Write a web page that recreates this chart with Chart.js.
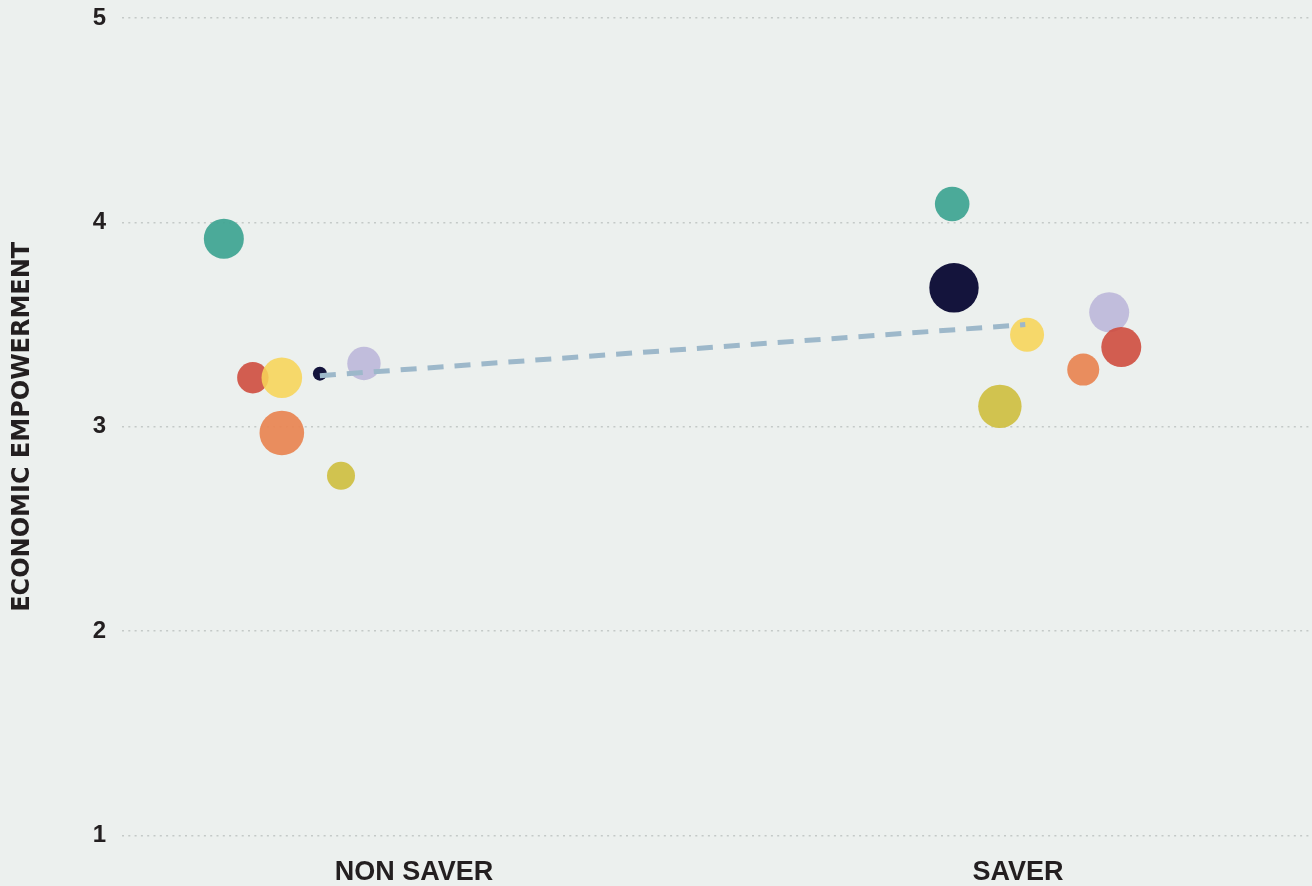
<!DOCTYPE html>
<html>
<head>
<meta charset="utf-8">
<script src="https://cdn.jsdelivr.net/npm/chart.js@4.4.1/dist/chart.umd.min.js"></script>
<style>
  html, body { margin: 0; padding: 0; background: #ecf0ee; }
  #wrap { width: 1312px; height: 886px; }
</style>
</head>
<body>
<div id="wrap"><canvas id="chart"></canvas></div>
<script>
// categories on the x axis (non saver = 0, saver = 1)
const categories = ['NON SAVER', 'SAVER'];
const yTicks = [1, 2, 3, 4, 5];

// economic empowerment score per group: [non saver, saver]
const tealScores = [3.92, 4.09];
const redScores = [3.24, 3.39];
const yellowScores = [3.24, 3.45];
const navyScores = [3.26, 3.68];
const lavenderScores = [3.31, 3.56];
const orangeScores = [2.97, 3.28];
const oliveScores = [2.76, 3.10];

// horizontal jitter around each category
const tealOffsets = [-0.315, -0.109];
const redOffsets = [-0.267, 0.171];
const yellowOffsets = [-0.219, 0.015];
const navyOffsets = [-0.156, -0.106];
const lavenderOffsets = [-0.083, 0.151];
const orangeOffsets = [-0.219, 0.108];
const oliveOffsets = [-0.121, -0.030];

// bubble size (group size)
const tealSizes = [20, 17.3];
const redSizes = [15.7, 20];
const yellowSizes = [20.3, 17];
const navySizes = [7, 24.7];
const lavenderSizes = [16.7, 20];
const orangeSizes = [22.3, 16];
const oliveSizes = [14, 21.7];

// overall trend
const trendX = [-0.156, 1.012];
const trendY = [3.25, 3.50];

function bubbles(scores, offsets, sizes) {
  return scores.map(function(s, i) {
    return { x: i + offsets[i], y: s, r: sizes[i] };
  });
}

function bubbleSet(label, scores, offsets, sizes, color) {
  return {
    type: 'bubble',
    label: label,
    data: bubbles(scores, offsets, sizes),
    backgroundColor: color,
    borderWidth: 0,
    hoverBorderWidth: 0,
    order: 1
  };
}

const ctx = document.getElementById('chart');
new Chart(ctx, {
  type: 'bubble',
  data: {
    datasets: [
      {
        type: 'line',
        label: 'trend',
        data: trendX.map(function(x, i) { return { x: x, y: trendY[i] }; }),
        borderColor: '#9db8ca',
        borderWidth: 5,
        borderDash: [16, 11],
        pointRadius: 0,
        fill: false,
        order: 0
      },
      // first listed is drawn on top
      bubbleSet('yellow', yellowScores, yellowOffsets, yellowSizes, 'rgba(247,212,88,0.88)'),
      bubbleSet('red', redScores, redOffsets, redSizes, 'rgba(207,76,62,0.9)'),
      bubbleSet('lavender', lavenderScores, lavenderOffsets, lavenderSizes, 'rgba(188,183,217,0.9)'),
      bubbleSet('navy', navyScores, navyOffsets, navySizes, 'rgba(20,20,60,1)'),
      bubbleSet('teal', tealScores, tealOffsets, tealSizes, 'rgba(66,165,148,0.95)'),
      bubbleSet('orange', orangeScores, orangeOffsets, orangeSizes, 'rgba(233,135,85,0.95)'),
      bubbleSet('olive', oliveScores, oliveOffsets, oliveSizes, 'rgba(208,192,70,0.95)')
    ]
  },
  options: {
    responsive: true,
    maintainAspectRatio: false,
    animation: false,
    layout: { autoPadding: false, padding: { top: 18, right: 0, bottom: -24, left: 0 } },
    plugins: {
      legend: { display: false },
      tooltip: { enabled: false }
    },
    scales: {
      x: {
        type: 'linear',
        min: -0.4834,
        max: 1.4868,
        grid: { display: false, drawTicks: false },
        border: { display: false },
        afterBuildTicks: function(axis) {
          axis.ticks = categories.map(function(c, i) { return { value: i }; });
        },
        ticks: {
          padding: 21,
          color: '#231f20',
          font: { family: 'Liberation Sans', size: 27, weight: 'bold' },
          callback: function(value) {
            return categories[value];
          }
        }
      },
      y: {
        min: yTicks[0],
        max: yTicks[yTicks.length - 1],
        afterBuildTicks: function(axis) {
          axis.ticks = yTicks.map(function(v) { return { value: v }; });
        },
        afterFit: function(axis) {
          axis.paddingTop = 0;
          axis.paddingBottom = 0;
        },
        grid: {
          color: '#c4c9c7',
          lineWidth: 1.5,
          drawTicks: false
        },
        border: { display: false, dash: [2, 4.3] },
        ticks: {
          padding: 16,
          color: '#231f20',
          font: { family: 'Liberation Sans', size: 24, weight: 'bold' }
        },
        title: {
          display: true,
          text: 'ECONOMIC EMPOWERMENT',
          color: '#231f20',
          font: { family: 'DejaVu Sans', size: 24, weight: 'bold' },
          padding: { top: 8, bottom: 40 }
        }
      }
    }
  }
});
</script>
</body>
</html>
